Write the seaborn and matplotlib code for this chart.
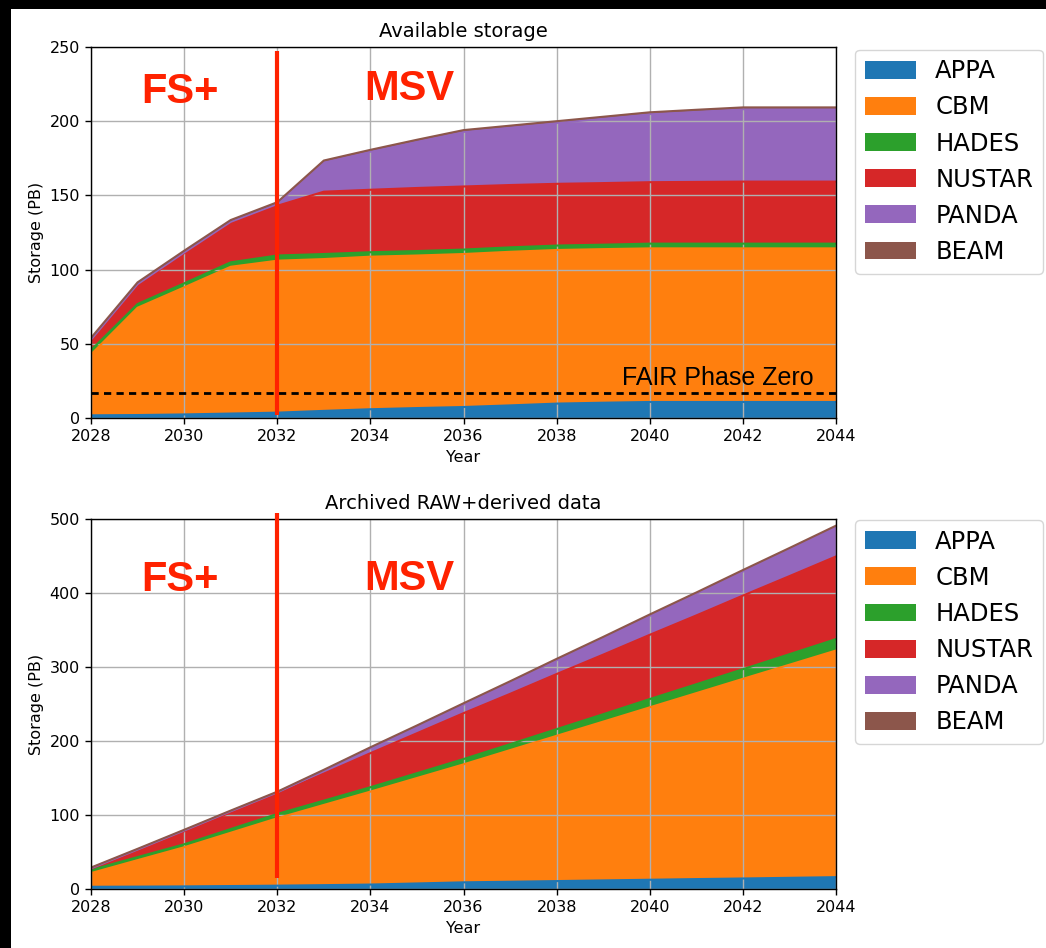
import numpy as np
import matplotlib
matplotlib.use("Agg")
import matplotlib.pyplot as plt
import seaborn as sns
from matplotlib.patches import Rectangle
import matplotlib.transforms as mtransforms

# ---------------- data ----------------
years = list(range(2028, 2045))
series_names = ["APPA", "CBM", "HADES", "NUSTAR", "PANDA", "BEAM"]

# Available storage (PB)
st_appa = [1.8, 2.0, 2.4, 3.0, 3.6, 4.8, 5.9, 6.7, 7.4, 8.5, 9.7, 10.3, 10.8, 10.8, 10.8, 10.8, 10.8]
st_cbm = [41.0, 72.3, 85.6, 98.9, 102.4, 102.3, 102.8, 102.8, 103.1, 103.5, 103.5, 103.5, 103.5, 103.5, 103.5, 103.5, 103.5]
st_hades = [2.9, 2.5, 2.7, 3.0, 3.5, 3.4, 3.0, 3.0, 3.0, 3.0, 3.0, 3.0, 3.2, 3.2, 3.2, 3.2, 3.2]
st_nustar = [6.1, 13.0, 20.3, 26.7, 33.5, 42.0, 42.1, 42.5, 42.5, 42.0, 41.6, 41.5, 41.4, 41.6, 41.8, 41.8, 41.8]
st_panda = [1.0, 0.4, 0.5, 0.6, 1.2, 19.8, 25.7, 31.3, 36.8, 38.8, 41.0, 43.5, 45.9, 47.4, 48.8, 48.8, 48.8]
st_beam = [1.2, 1.2, 1.2, 1.2, 1.2, 1.2, 1.2, 1.2, 1.2, 1.2, 1.2, 1.2, 1.2, 1.2, 1.2, 1.2, 1.2]

# Archived RAW+derived data (PB)
ar_appa = [3.0, 3.2, 3.5, 4.0, 4.5, 5.2, 6.0, 7.5, 9.0, 9.8, 10.7, 11.6, 12.5, 13.4, 14.2, 15.1, 16.0]
ar_cbm = [18.5, 35.8, 52.9, 72.0, 91.1, 108.4, 125.6, 142.5, 159.4, 177.9, 196.3, 214.6, 233.0, 251.3, 269.8, 288.0, 306.3]
ar_hades = [4.2, 4.1, 4.0, 5.0, 5.8, 5.8, 5.9, 6.5, 7.2, 8.0, 9.0, 10.0, 11.2, 12.0, 13.0, 14.2, 15.4]
ar_nustar = [1.8, 9.5, 17.6, 22.5, 27.1, 36.5, 46.0, 54.0, 62.0, 68.0, 74.5, 80.5, 86.8, 93.0, 99.5, 105.5, 111.7]
ar_panda = [0.5, 0.7, 1.0, 1.5, 2.0, 4.0, 6.5, 9.0, 11.4, 15.0, 18.5, 22.0, 25.5, 29.0, 32.5, 36.0, 39.6]
ar_beam = [1.0, 1.0, 1.0, 1.0, 1.0, 1.2, 1.5, 1.5, 2.0, 2.0, 2.0, 2.0, 2.0, 2.0, 2.0, 2.0, 2.0]

fair_phase_zero = 17.0
split_year = 2032

# ---------------- figure ----------------
W, H = 1046, 948
fig = plt.figure(figsize=(W / 100, H / 100), dpi=100)
fig.patch.set_facecolor("black")
fig.patches.append(Rectangle((11 / W, 0), 1, 1 - 9 / H, transform=fig.transFigure,
                             facecolor="white", edgecolor="none", zorder=-10))

pal = sns.color_palette("tab10", 6)
red = "#ff2200"

def ax_rect(l, t, r, b):
    return [l / W, 1 - b / H, (r - l) / W, (b - t) / H]

ax1 = fig.add_axes(ax_rect(91, 47, 836, 418))
ax2 = fig.add_axes(ax_rect(91, 519, 836, 889))

def draw(ax, data, title, ymax, ystep, leg_top):
    polys = ax.stackplot(years, *data, colors=pal, labels=series_names, zorder=1)
    cum = np.cumsum(np.array(data), axis=0)
    for i in range(len(data)):
        sns.lineplot(x=years, y=cum[i], color=pal[i], lw=1.5, ax=ax, zorder=2, legend=False)
    ax.set_xlim(2028, 2044)
    ax.set_ylim(0, ymax)
    ax.set_xticks(range(2028, 2045, 2))
    ax.set_yticks(range(0, ymax + 1, ystep))
    ax.grid(True, color="#b0b0b0", lw=1.0)
    ax.tick_params(labelsize=11.5, length=4.5, width=1)
    for s in ax.spines.values():
        s.set_linewidth(1.0)
    ax.set_title(title, fontsize=14, pad=7)
    ax.set_xlabel("Year", fontsize=11.5)
    ax.set_ylabel("Storage (PB)", fontsize=11.5)
    ax.legend(handles=polys, loc="upper left", bbox_to_anchor=(855 / W, 1 - leg_top / H),
              bbox_transform=fig.transFigure, borderaxespad=0, fontsize=17.5,
              handlelength=2.1, handleheight=0.75, labelspacing=0.5)

draw(ax1, [st_appa, st_cbm, st_hades, st_nustar, st_panda, st_beam],
     "Available storage", 250, 50, 49.5)
draw(ax2, [ar_appa, ar_cbm, ar_hades, ar_nustar, ar_panda, ar_beam],
     "Archived RAW+derived data", 500, 100, 520)

# FAIR Phase Zero line
ax1.axhline(fair_phase_zero, color="black", lw=2, ls=(0, (2.6, 1.9)), zorder=3)
ax1.text(2039.4, 22, "FAIR Phase Zero", fontsize=18, family="Liberation Sans",
         ha="left", va="baseline", zorder=4)

# FS+ / MSV split markers
for ax, y0, y1, ty in [(ax1, 0.008, 0.99, 212.5), (ax2, 0.03, 1.016, 403)]:
    tr = mtransforms.blended_transform_factory(ax.transData, ax.transAxes)
    ax.plot([split_year, split_year], [y0, y1], transform=tr, color=red, lw=3,
            clip_on=False, zorder=5, solid_capstyle="butt")
    ax.text(2029.07, ty, "FS+", color=red, fontsize=30, fontweight="bold",
            family="Liberation Sans", ha="left", va="baseline", zorder=6)
    ax.text(2033.86, ty + 1.5 * (ax is ax1) + 1.0 * (ax is ax2), "MSV", color=red, fontsize=30,
            fontweight="bold", family="Liberation Sans", ha="left", va="baseline", zorder=6)

fig.savefig("out.png", dpi=100, facecolor=fig.get_facecolor())
